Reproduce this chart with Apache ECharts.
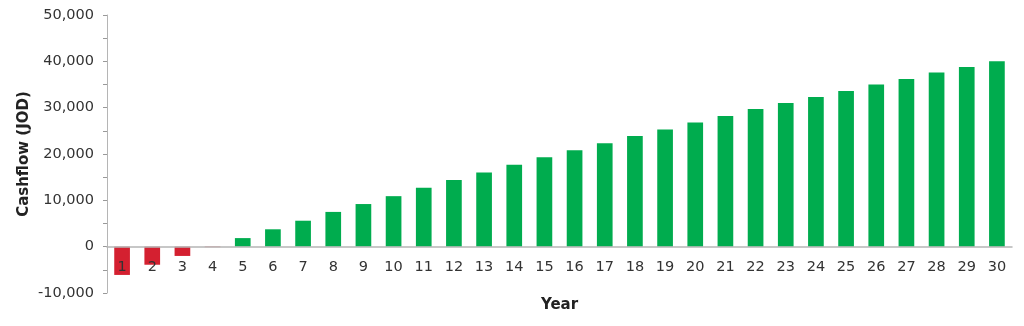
<!DOCTYPE html>
<html>
<head>
<meta charset="utf-8">
<script src="https://cdn.jsdelivr.net/npm/echarts@6/dist/echarts.min.js"></script>
<style>html,body{margin:0;padding:0;background:#fff}#c{width:1024px;height:326px}</style>
</head>
<body>
<div id="c"></div>
<script>
const years = ['1','2','3','4','5','6','7','8','9','10','11','12','13','14','15','16','17','18','19','20','21','22','23','24','25','26','27','28','29','30'];
const cashflow = [-6100,-3900,-2000,-100,1850,3750,5600,7500,9200,10900,12700,14400,16000,17700,19300,20800,22300,23900,25300,26800,28200,29700,31000,32300,33600,35000,36200,37600,38800,40000];
const yTicks = {min:-10000, max:50000, interval:10000};
const FONT = 'DejaVu Sans';

const chart = echarts.init(document.getElementById('c'));
chart.setOption({
  animation:false,
  textStyle:{fontFamily:FONT},
  grid:{left:107, right:12, top:15, bottom:33, containLabel:false, outerBoundsMode:'none'},
  xAxis:{
    type:'category', data:years, z:5,
    name:'Year', nameLocation:'middle', nameGap:51, nameMoveOverlap:false,
    nameTextStyle:{fontFamily:FONT, fontWeight:'bold', fontSize:15, color:'#222'},
    offset:-46.33,
    axisLine:{onZero:false, lineStyle:{color:'#b5b5b5', width:1.5}},
    axisTick:{show:false},
    axisLabel:{fontFamily:FONT, fontSize:14.5, color:'#333', margin:13, interval:0}
  },
  yAxis:{
    type:'value', min:yTicks.min, max:yTicks.max, interval:yTicks.interval,
    name:'Cashflow (JOD)', nameLocation:'middle', nameGap:75, nameRotate:90, nameMoveOverlap:false,
    nameTextStyle:{fontFamily:FONT, fontWeight:'bold', fontSize:15, color:'#222'},
    axisLine:{show:true, lineStyle:{color:'#b5b5b5'}},
    axisTick:{show:true, length:4, lineStyle:{color:'#999'}},
    minorTick:{show:true, splitNumber:2, length:4, lineStyle:{color:'#999'}},
    splitLine:{show:false},
    axisLabel:{fontFamily:FONT, fontSize:14.5, color:'#333', margin:13,
      formatter:v=>v.toLocaleString('en-US')}
  },
  series:[{
    type:'bar', z:2, data:cashflow.map(v=>({value:v, itemStyle:{color: v<0 ? '#d42030' : '#00ac4e'}})),
    barCategoryGap:'48%'
  }]
});
</script>
</body>
</html>
